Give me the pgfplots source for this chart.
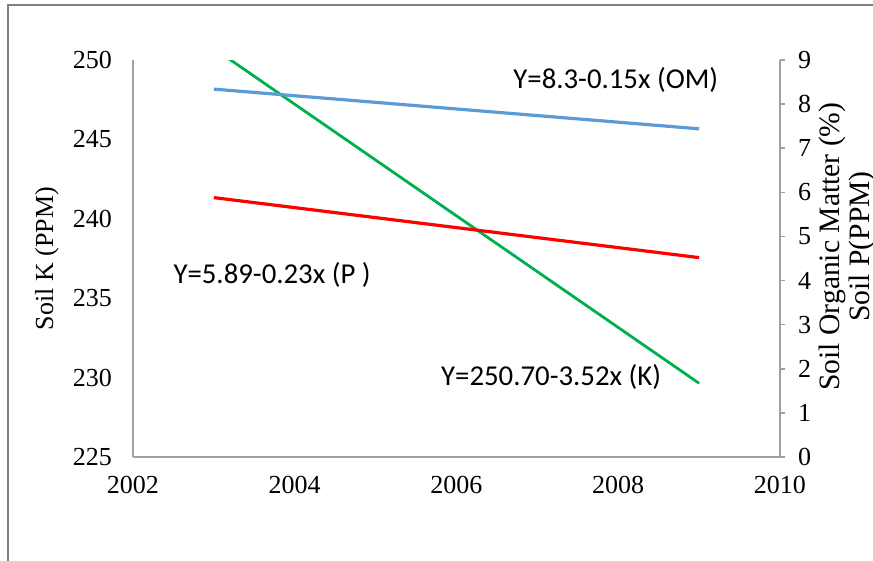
\documentclass[border=0pt]{standalone}
\usepackage{pgfplots}
\pgfplotsset{compat=1.18}
\usepackage{fontspec}
\setmainfont{Liberation Serif}
\newfontfamily\calib{Carlito}
\definecolor{omblue}{HTML}{5B9BD5}
\definecolor{kgreen}{HTML}{00B050}
\definecolor{axgray}{HTML}{A0A0A0}
\begin{document}
\begin{tikzpicture}
\useasboundingbox (0pt,0pt) rectangle (436.5pt,-280.5pt);
\clip (0pt,0pt) rectangle (436.5pt,-280.5pt);
\draw[color=axgray!80!black, line width=1pt] (4pt,-300pt) -- (4pt,-2.5pt) -- (450pt,-2.5pt);
% primary axis: Soil K
\begin{axis}[
  at={(66.5pt,-228.5pt)}, anchor=origin,
  scale only axis, width=323.5pt, height=198.5pt,
  xmin=2002, xmax=2010, ymin=225, ymax=250,
  xtick={2002,2004,2006,2008,2010},
  ytick={225,230,235,240,245,250},
  axis x line*=bottom, axis y line*=left,
  axis line style={color=axgray, line width=0.8pt},
  major tick length=0pt,
  font=\fontsize{13}{15.6}\selectfont,
  /pgf/number format/assume math mode=true,
  /pgf/number format/1000 sep={},
  yticklabel style={xshift=-7pt},
  xticklabel style={yshift=-6pt},
  ylabel={Soil K (PPM)},
  ylabel style={at={(axis description cs:-0.133,0.5)}, anchor=center},
]
\addplot[color=kgreen, line width=1.4pt] coordinates {(2003,250.73) (2009,229.64)};
\node[font=\calib\fontsize{14.4}{16}\selectfont] at (axis cs:2007.17,230.04) {Y=250.70-3.52x (K)};
\node[font=\calib\fontsize{14.4}{16}\selectfont] at (axis cs:2003.72,236.46) {Y=5.89-0.23x (P )};
\node[font=\calib\fontsize{14.4}{16}\selectfont] at (axis cs:2007.97,248.74) {Y=8.3-0.15x (OM)};
\end{axis}
% secondary axis: OM and P
\begin{axis}[
  at={(66.5pt,-228.5pt)}, anchor=origin,
  scale only axis, width=323.5pt, height=198.5pt,
  xmin=2002, xmax=2010, ymin=0, ymax=9,
  ytick={0,1,2,3,4,5,6,7,8,9},
  axis x line=none, axis y line*=right,
  axis line style={color=axgray, line width=0.8pt},
  ytick style={color=axgray, line width=0.8pt},
  tick align=outside, major tick length=2.5pt,
  font=\fontsize{13}{15.6}\selectfont,
  /pgf/number format/assume math mode=true,
  yticklabel style={xshift=3pt},
  ylabel={Soil Organic Matter (\%)\\Soil P(PPM)},
  ylabel style={at={(axis description cs:1.104,0.53)}, anchor=center, align=center, rotate=0, font=\fontsize{14.8}{15}\selectfont},
]
\addplot[color=omblue, line width=1.6pt] coordinates {(2003,8.34) (2009,7.44)};
\addplot[color=red, line width=1.6pt] coordinates {(2003,5.88) (2009,4.52)};
\end{axis}
\end{tikzpicture}
\end{document}
